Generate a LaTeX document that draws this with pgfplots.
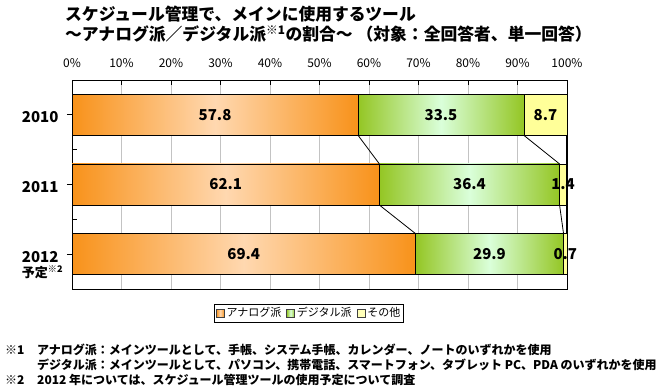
\documentclass[border=0pt]{standalone}
\usepackage{fontspec}
\setmainfont{Noto Sans CJK JP}
\usepackage{pgfplots}
\pgfplotsset{compat=1.18}
\definecolor{orD}{RGB}{248,146,26}
\definecolor{orL}{RGB}{255,216,176}
\definecolor{grD}{RGB}{148,198,36}
\definecolor{grL}{RGB}{218,255,218}
\definecolor{yel}{RGB}{255,255,153}
\definecolor{gridc}{RGB}{195,195,195}
\pgfplotsset{
  orseg/.style={draw=black, line width=0.6bp, mark=none, left color=orD, right color=orD, middle color=orL},
  grseg/.style={draw=black, line width=0.6bp, mark=none, left color=grD, right color=grD, middle color=grL},
  yeseg/.style={draw=black, line width=0.6bp, mark=none, fill=yel},
}
\begin{document}
\begin{tikzpicture}
\useasboundingbox (0,0) rectangle (663bp,-391bp);
% title
\node[anchor=west, inner sep=0pt, font=\fontsize{16.8bp}{18bp}\selectfont\bfseries] at (65bp,-14bp) {スケジュール管理で、メインに使用するツール};
\node[anchor=west, inner sep=0pt, font=\fontsize{16.8bp}{18bp}\selectfont\bfseries] at (65bp,-34bp) {～アナログ派／デジタル派\textsuperscript{※1}の割合～ （対象：全回答者、単一回答）};
% footnotes
\begin{scope}[every node/.style={anchor=west, inner sep=0pt, font=\fontsize{12bp}{13bp}\selectfont\bfseries}]
\node at (5bp,-350bp) {※1};
\node at (37bp,-350bp) {アナログ派：メインツールとして、手帳、システム手帳、カレンダー、ノートのいずれかを使用};
\node at (37bp,-365bp) {デジタル派：メインツールとして、パソコン、携帯電話、スマートフォン、タブレット PC、PDA のいずれかを使用};
\node at (5bp,-380bp) {※2};
\node at (37bp,-380bp) {2012 年については、スケジュール管理ツールの使用予定について調査};
\end{scope}
\begin{axis}[
  at={(72bp,-289bp)}, anchor=south west,
  scale only axis, width=495bp, height=209bp,
  xmin=0, xmax=100, ymin=-0.5, ymax=2.5, y dir=reverse,
  xtick={0,10,...,100},
  xticklabels={0\%,10\%,20\%,30\%,40\%,50\%,60\%,70\%,80\%,90\%,100\%},
  xtick pos=right, xticklabel pos=right,
  xticklabel style={font=\fontsize{12bp}{13bp}\selectfont, yshift=9bp},
  ytick={0,1,2},
  yticklabels={2010,2011,{\rlap{\smash{\raisebox{-15bp}{\fontsize{13bp}{14bp}\selectfont 予定\textsuperscript{※2}}}}2012}},
  ytick pos=left,
  yticklabel style={font=\fontsize{15bp}{16bp}\selectfont\bfseries, xshift=-10bp, yshift=-2.5bp},
  minor ytick={0.5,1.5},
  major tick length=5bp, minor tick length=5bp,
  major y tick style={xshift=-5bp},
  xmajorgrids, major grid style={gridc, line width=0.7bp},
  axis line style={line width=0.8bp},
  tick style={black, line width=0.8bp},
  legend columns=3,
  legend style={at={(0.479,-0.115)}, anchor=center, draw=black, line width=0.7bp,
    font=\fontsize{11bp}{12bp}\selectfont, inner sep=1.5bp,
    /tikz/every even column/.append style={column sep=3bp}},
  legend cell align=left,
]
% analog
\addplot[orseg, legend image code/.code={\draw[draw=black!75, fill=orL!75!orD, line width=0.6bp] (0bp,-4bp) rectangle (8bp,4bp);}]
  coordinates {(0,-0.295) (57.8,-0.295) (57.8,0.295) (0,0.295)} -- cycle;
\addlegendentry{アナログ派}
\addplot[orseg, forget plot] coordinates {(0,0.705) (62.1,0.705) (62.1,1.295) (0,1.295)} -- cycle;
\addplot[orseg, forget plot] coordinates {(0,1.705) (69.4,1.705) (69.4,2.295) (0,2.295)} -- cycle;
% digital
\addplot[grseg, legend image code/.code={\draw[draw=black!75, fill=grL!80!grD, line width=0.6bp] (0bp,-4bp) rectangle (8bp,4bp);}]
  coordinates {(57.8,-0.295) (91.3,-0.295) (91.3,0.295) (57.8,0.295)} -- cycle;
\addlegendentry{デジタル派}
\addplot[grseg, forget plot] coordinates {(62.1,0.705) (98.5,0.705) (98.5,1.295) (62.1,1.295)} -- cycle;
\addplot[grseg, forget plot] coordinates {(69.4,1.705) (99.3,1.705) (99.3,2.295) (69.4,2.295)} -- cycle;
% other
\addplot[yeseg, legend image code/.code={\draw[draw=black!75, fill=yel!70!white, line width=0.6bp] (0bp,-4bp) rectangle (8bp,4bp);}]
  coordinates {(91.3,-0.295) (100,-0.295) (100,0.295) (91.3,0.295)} -- cycle;
\addlegendentry{その他}
\addplot[yeseg, forget plot] coordinates {(98.5,0.705) (99.9,0.705) (99.9,1.295) (98.5,1.295)} -- cycle;
\addplot[yeseg, forget plot] coordinates {(99.3,1.705) (100,1.705) (100,2.295) (99.3,2.295)} -- cycle;
\end{axis}
\begin{axis}[
  at={(72bp,-289bp)}, anchor=south west,
  scale only axis, width=495bp, height=209bp,
  xmin=0, xmax=100, ymin=-0.5, ymax=2.5, y dir=reverse,
  hide axis, clip=false,
]
\addplot[only marks, mark=none, nodes near coords, point meta=explicit symbolic,
  nodes near coords style={anchor=center, font=\fontsize{15bp}{16bp}\selectfont\bfseries, inner sep=0pt}]
  table[meta=l] {
x y l
28.9 0 57.8
74.55 0 33.5
95.65 0 8.7
31.05 1 62.1
80.3 1 36.4
99.2 1 1.4
34.7 2 69.4
84.35 2 29.9
99.65 2 0.7
};
\addplot[black, line width=0.8bp] coordinates {(57.8,0.295) (62.1,0.705)};
\addplot[black, line width=0.8bp] coordinates {(91.3,0.295) (98.5,0.705)};
\addplot[black, line width=1.2bp] coordinates {(100,0.295) (100,0.705)};
\addplot[black, line width=0.8bp] coordinates {(62.1,1.295) (69.4,1.705)};
\addplot[black, line width=0.8bp] coordinates {(98.5,1.295) (99.3,1.705)};
\addplot[black, line width=1.2bp] coordinates {(100,1.295) (100,1.705)};
\end{axis}
\end{tikzpicture}
\end{document}
